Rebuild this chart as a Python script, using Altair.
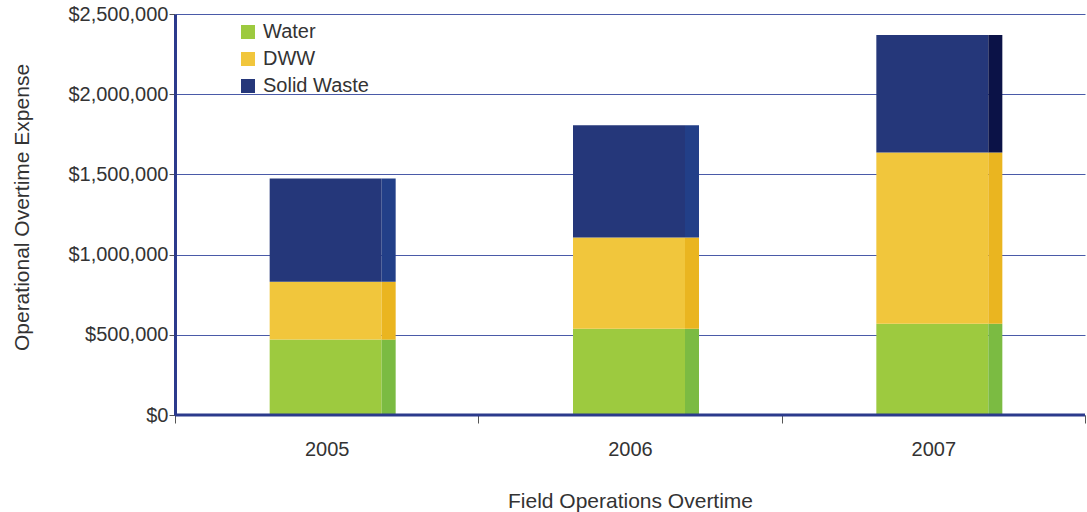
import altair as alt
import pandas as pd

years = ["2005", "2006", "2007"]
series = ["Water", "DWW", "Solid Waste"]
water = [470000, 537000, 569000]
dww = [361000, 569000, 1068000]
solid = [644000, 700000, 732000]

rows = []
for i, y in enumerate(years):
    for k, (s, vals) in enumerate(zip(series, [water, dww, solid])):
        rows.append({"Year": y, "Series": s, "Value": vals[i], "Order": k})
df = pd.DataFrame(rows)

main_colors = ["#9dca3f", "#f1c63c", "#25377a"]
side_colors = ["#7bbb42", "#eab520", "#223f88"]
FONT = "Liberation Sans"

x_enc = alt.X(
    "Year:N",
    sort=years,
    scale=alt.Scale(paddingInner=0, paddingOuter=0),
    axis=alt.Axis(
        title="Field Operations Overtime",
        labelAngle=0,
        tickBand="extent",
        tickSize=8,
        tickColor="#555555",
        domain=False,
        labelPadding=16,
        titlePadding=31,
        labelFontSize=20,
        titleFontSize=21,
        labelColor="#333333",
        titleColor="#333333",
        titleFontWeight="normal",
        labelFont=FONT,
        titleFont=FONT,
    ),
)
y_enc = alt.Y(
    "Value:Q",
    stack="zero",
    scale=alt.Scale(domain=[0, 2500000], nice=False),
    axis=alt.Axis(
        title="Operational Overtime Expense",
        values=[0, 500000, 1000000, 1500000, 2000000, 2500000],
        format="$,.0f",
        grid=True,
        gridColor="#4a5aa8",
        gridWidth=1,
        domainColor="#2b3a8c",
        domainWidth=3,
        tickColor="#555555",
        tickSize=6,
        labelFontSize=20,
        titleFontSize=21,
        labelColor="#333333",
        titleColor="#333333",
        titleFontWeight="normal",
        labelFont=FONT,
        titleFont=FONT,
        titlePadding=35,
        titleY=193,
        labelPadding=1,
    ),
)

main = alt.Chart(df).mark_bar(width=112, xOffset=-1).encode(
    x=x_enc,
    y=y_enc,
    order=alt.Order("Order:Q", sort="ascending"),
    color=alt.Color(
        "Series:N",
        scale=alt.Scale(domain=series, range=main_colors),
        sort=series,
        legend=alt.Legend(
            title=None,
            orient="none",
            legendX=63,
            legendY=8,
            symbolType="square",
            symbolSize=196,
            symbolStrokeWidth=0,
            labelFontSize=20,
            labelFont=FONT,
            labelColor="#333333",
            rowPadding=7,
            labelOffset=5,
        ),
    ),
)

side = alt.Chart(df).mark_bar(width=14, xOffset=62).encode(
    x=alt.X("Year:N", sort=years),
    y=alt.Y("Value:Q", stack="zero"),
    order=alt.Order("Order:Q", sort="ascending"),
    color=alt.condition(
        "datum.Year == '2007' && datum.Series == 'Solid Waste'",
        alt.value("#0b1247"),
        alt.Color("Series:N", scale=alt.Scale(domain=series, range=side_colors), legend=None),
    ),
)

baseline = alt.Chart(pd.DataFrame({"v": [0]})).mark_rule(color="#2b3a8c", strokeWidth=3).encode(
    y=alt.Y("v:Q")
)

chart = (
    alt.layer(main, side, baseline)
    .resolve_scale(color="independent")
    .properties(
        width=910,
        height=401,
        autosize="none",
        padding={"left": 175, "top": 14, "right": 2, "bottom": 97},
    )
    .configure_view(stroke=None)
    .configure_axis(labelFont=FONT, titleFont=FONT)
)

chart.save("out.html", embed_options={"renderer": "svg", "actions": False})
